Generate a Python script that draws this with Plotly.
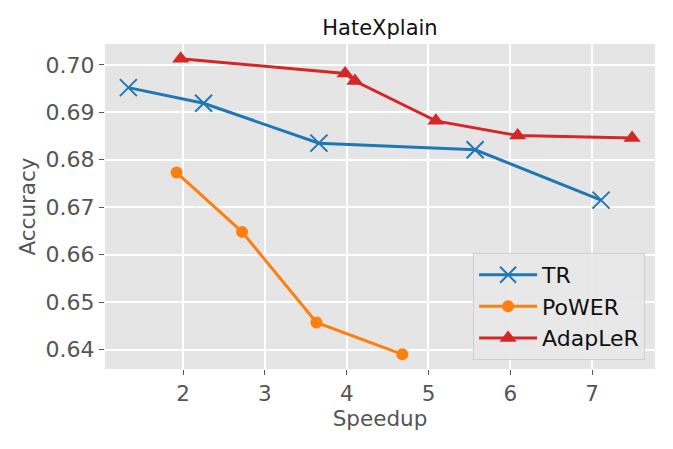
import plotly.graph_objects as go

# values
tr_speedup = [1.33, 2.25, 3.66, 5.57, 7.11]
tr_acc = [0.6952, 0.6919, 0.6835, 0.6821, 0.6715]

power_speedup = [1.92, 2.72, 3.63, 4.68]
power_acc = [0.6773, 0.6648, 0.6457, 0.6390]

adapler_speedup = [1.97, 3.98, 4.10, 5.09, 6.09, 7.49]
adapler_acc = [0.7013, 0.6982, 0.6966, 0.6882, 0.6851, 0.6846]

x_ticks = [2, 3, 4, 5, 6, 7]
y_ticks = [0.64, 0.65, 0.66, 0.67, 0.68, 0.69, 0.70]

font = "DejaVu Sans"
grey = "#555555"

fig = go.Figure()
fig.add_trace(go.Scatter(
    x=tr_speedup, y=tr_acc, mode="lines+markers", name="TR",
    line=dict(color="#1f77b4", width=3),
    marker=dict(symbol="x-thin-open", size=17, color="#1f77b4",
                line=dict(width=2, color="#1f77b4")),
))
fig.add_trace(go.Scatter(
    x=power_speedup, y=power_acc, mode="lines+markers", name="PoWER",
    line=dict(color="#ff7f0e", width=3),
    marker=dict(symbol="circle", size=12, color="#ff7f0e"),
))
fig.add_trace(go.Scatter(
    x=adapler_speedup, y=adapler_acc, mode="lines+markers", name="AdapLeR",
    line=dict(color="#d62728", width=3),
    marker=dict(symbol="triangle-up", size=15, color="#d62728"),
))

# body of the page has an 8px margin, so the figure is a bit smaller than the window
fig.update_layout(
    width=657, height=433,
    margin=dict(l=97, r=10, t=36, b=72),
    paper_bgcolor="white",
    plot_bgcolor="#E5E5E5",
    font=dict(family=font, size=22, color=grey),
    title=dict(text="HateXplain", x=0.5, xanchor="center", y=0.955, yanchor="middle",
               xref="paper", font=dict(family=font, size=21, color="#111111")),
    showlegend=True,
    legend=dict(
        x=0.982, y=0.028, xanchor="right", yanchor="bottom",
        bgcolor="rgba(232,232,232,0.9)", bordercolor="#D0D0D0", borderwidth=1,
        font=dict(family=font, size=22, color="#111111"),
        itemwidth=58,
    ),
    xaxis=dict(
        title=dict(text="Speedup", font=dict(size=21.5, color=grey), standoff=4),
        range=[1.044, 7.77], tickvals=x_ticks,
        showgrid=True, gridcolor="white", gridwidth=1.6, zeroline=False,
        ticks="outside", ticklen=5, tickcolor=grey, tickwidth=1,
        tickfont=dict(size=21.5, color=grey),
    ),
    yaxis=dict(
        title=dict(text="Accuracy", font=dict(size=21.5, color=grey), standoff=4),
        range=[0.6359, 0.7044], tickvals=y_ticks, tickformat=".2f",
        showgrid=True, gridcolor="white", gridwidth=1.6, zeroline=False,
        ticks="outside", ticklen=5, tickcolor=grey, tickwidth=1,
        tickfont=dict(size=22, color=grey),
    ),
)

fig.write_html("out.html")
